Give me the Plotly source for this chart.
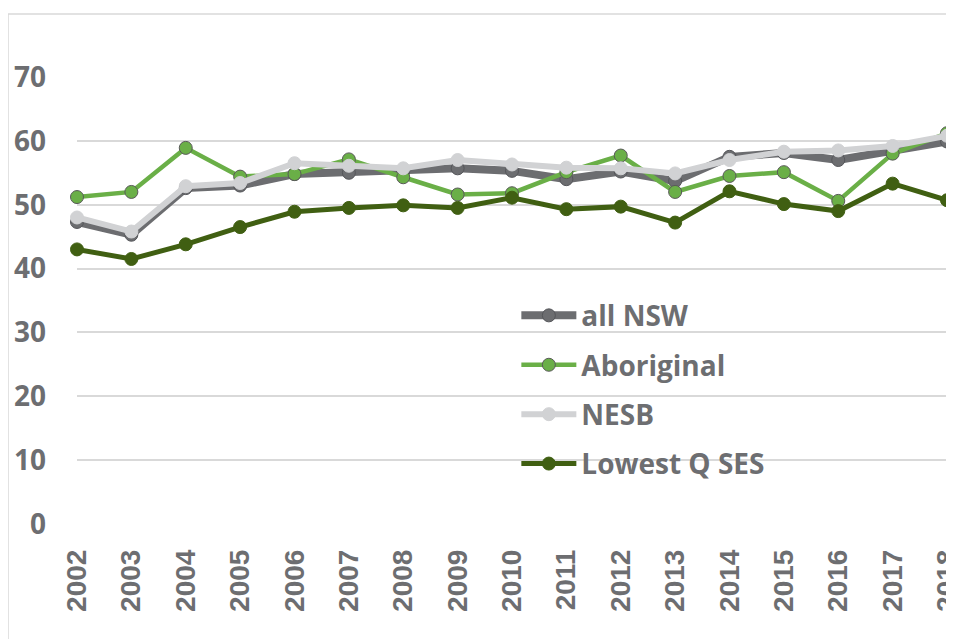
import plotly.graph_objects as go

years = [str(y) for y in range(2002, 2019)]
all_nsw = [47.3, 45.3, 52.6, 53.0, 54.8, 55.0, 55.2, 55.7, 55.3, 54.0, 55.2, 53.7, 57.5, 58.1, 57.0, 58.3, 59.9]
aboriginal = [51.2, 52.0, 58.9, 54.4, 54.8, 57.1, 54.3, 51.6, 51.8, 55.1, 57.7, 52.0, 54.5, 55.1, 50.6, 58.0, 61.2]
nesb = [48.0, 45.8, 52.9, 53.4, 56.5, 56.1, 55.7, 57.0, 56.3, 55.8, 55.7, 54.9, 57.0, 58.3, 58.5, 59.2, 60.8]
lowest_q = [43.0, 41.5, 43.8, 46.5, 48.9, 49.5, 49.9, 49.5, 51.1, 49.3, 49.7, 47.2, 52.1, 50.1, 49.0, 53.3, 50.7]
y_ticks = [0, 10, 20, 30, 40, 50, 60, 70]

GRAY = "#6d6e71"
fig = go.Figure()

series = [
    ("all NSW", all_nsw, "#6c6d70", 8, "#6c6d70", "#55565a"),
    ("Aboriginal", aboriginal, "#6aaf47", 4.5, "#6aaf47", "#595959"),
    ("NESB", nesb, "#d1d2d4", 6, "#d1d2d4", "#d1d2d4"),
    ("Lowest Q SES", lowest_q, "#405f12", 5, "#405f12", "#405f12"),
]
for name, vals, lc, lw, mc, mb in series:
    fig.add_trace(go.Scatter(
        x=years, y=vals, name=name, mode="lines+markers",
        line=dict(color=lc, width=lw),
        marker=dict(size=13, color=mc, line=dict(color=mb, width=1)),
        legendgroup=name, cliponaxis=False,
    ))

fig.update_layout(
    width=954, height=639,
    margin=dict(l=69, r=15, t=69, b=123),
    plot_bgcolor="white", paper_bgcolor="white",
    showlegend=True,
    legend=dict(
        x=0.505, y=0.522, xanchor="left", yanchor="top",
        font=dict(family="Open Sans", size=28, color=GRAY, weight="bold"),
        bgcolor="rgba(0,0,0,0)", tracegroupgap=10, itemwidth=55,
    ),
    xaxis=dict(
        type="category", range=[0, 16], showgrid=False, showline=False,
        zeroline=False, tickangle=-90, ticks="", ticklabelstandoff=19,
        automargin=False,
        tickfont=dict(family="Liberation Sans", size=28, color=GRAY, weight="bold"),
    ),
    yaxis=dict(
        range=[0, 70], tickvals=y_ticks, showgrid=True, gridcolor="#d9d9d9",
        gridwidth=2, zeroline=False, showline=False, ticks="",
        ticklabelstandoff=30, automargin=False,
        tickfont=dict(family="Open Sans", size=28, color=GRAY, weight="bold"),
    ),
    shapes=[
        dict(type="line", xref="paper", yref="paper", x0=-0.0793, x1=1.1,
             y0=1.141, y1=1.141, line=dict(color="#d9d9d9", width=1.5)),
        dict(type="line", xref="paper", yref="paper", x0=-0.0793, x1=-0.0793,
             y0=1.141, y1=-0.3, line=dict(color="#d9d9d9", width=1.5)),
    ],
)

fig.write_html("out.html")
